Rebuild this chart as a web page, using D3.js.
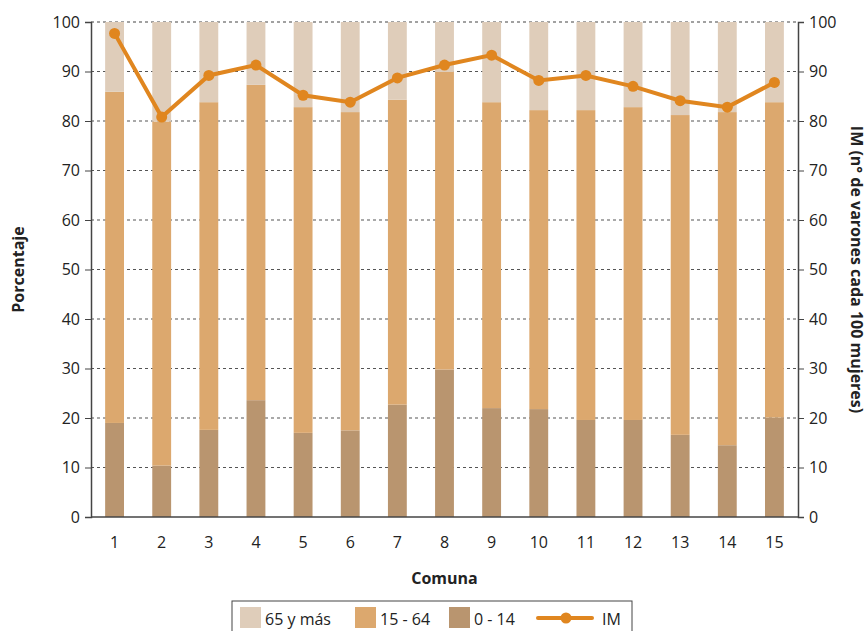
<!DOCTYPE html>
<meta charset="utf-8">
<script src="https://cdn.jsdelivr.net/npm/d3@7"></script>
<style>
body { margin: 0; background: #fff; }
text { font-family: "Open Sans", "Noto Sans", sans-serif; fill: #222; }
.tick text { font-size: 16px; }
.title { font-size: 16px; font-weight: bold; }
</style>
<body>
<script>
var comunas = ["1","2","3","4","5","6","7","8","9","10","11","12","13","14","15"];
// porcentaje por grupo de edad
var g0_14  = [19.0, 10.4, 17.6, 23.6, 17.0, 17.5, 22.7, 29.8, 22.0, 21.8, 19.6, 19.6, 16.6, 14.5, 20.1];
var g15_64 = [66.9, 69.5, 66.2, 63.7, 65.8, 64.3, 61.6, 60.1, 61.8, 60.4, 62.6, 63.2, 64.6, 67.3, 63.7];
var g65    = [14.1, 20.1, 16.2, 12.7, 17.2, 18.2, 15.7, 10.1, 16.2, 17.8, 17.8, 17.2, 18.8, 18.2, 16.2];
// indice de masculinidad
var im     = [97.7, 80.8, 89.2, 91.3, 85.2, 83.8, 88.7, 91.3, 93.3, 88.2, 89.2, 87.0, 84.1, 82.8, 87.8];

var keys = ["g0_14", "g15_64", "g65"];
var colors = {g0_14: "#b9956f", g15_64: "#dca86e", g65: "#dfcdba"};
var lineColor = "#e0861f";

var width = 867, height = 631;
var margin = {top: 22, right: 69, bottom: 114, left: 91};

var svg = d3.select("body").append("svg")
    .attr("width", width)
    .attr("height", height);

var x = d3.scaleBand().domain(comunas)
    .range([margin.left, width - margin.right])
    .paddingInner(0.6).paddingOuter(0.3);
var y = d3.scaleLinear().domain([0, 100]).range([height - margin.bottom, margin.top]);
var y2 = d3.scaleLinear().domain([0, 100]).range([height - margin.bottom, margin.top]);

// grid
svg.append("g")
  .selectAll("line")
  .data(d3.range(10, 101, 10))
  .enter().append("line")
    .attr("x1", margin.left).attr("x2", width - margin.right)
    .attr("y1", function(d) { return y(d); }).attr("y2", function(d) { return y(d); })
    .attr("stroke", function(d) { return d == 100 ? "#444" : "#555"; })
    .attr("stroke-width", 1.2)
    .attr("stroke-dasharray", "3,3");

var rows = comunas.map(function(c, i) {
  return {comuna: c, g0_14: g0_14[i], g15_64: g15_64[i], g65: g65[i]};
});
var stacked = d3.stack().keys(keys)(rows);

svg.append("g")
  .selectAll("g")
  .data(stacked)
  .enter().append("g")
    .attr("fill", function(d) { return colors[d.key]; })
  .selectAll("rect")
  .data(function(d) { return d; })
  .enter().append("rect")
    .attr("x", function(d) { return x(d.data.comuna); })
    .attr("width", x.bandwidth())
    .attr("y", function(d) { return y(d[1]); })
    .attr("height", function(d) { return y(d[0]) - y(d[1]); });

// axes
var yAxis = svg.append("g")
    .attr("transform", "translate(" + margin.left + ",0)")
    .call(d3.axisLeft(y).tickValues(d3.range(0, 101, 10)).tickSize(6).tickPadding(5));
var yAxis2 = svg.append("g")
    .attr("transform", "translate(" + (width - margin.right) + ",0)")
    .call(d3.axisRight(y2).tickValues(d3.range(0, 101, 10)).tickSize(6).tickPadding(5));
var xAxis = svg.append("g")
    .attr("transform", "translate(0," + (height - margin.bottom) + ")")
    .call(d3.axisBottom(x).tickSize(0).tickPadding(20));

[yAxis, yAxis2, xAxis].forEach(function(a) {
  a.select(".domain").attr("stroke", "#444").attr("stroke-width", 1.5);
  a.selectAll(".tick line").attr("stroke", "#444");
  a.selectAll(".tick text").attr("fill", "#222");
});
xAxis.select(".domain").attr("d", "M" + margin.left + ",0H" + (width - margin.right));

// IM line
var line = d3.line()
    .x(function(d, i) { return x(comunas[i]) + x.bandwidth() / 2; })
    .y(function(d) { return y2(d); });

svg.append("path")
    .datum(im)
    .attr("fill", "none")
    .attr("stroke", lineColor)
    .attr("stroke-width", 4)
    .attr("d", line);

svg.append("g")
  .selectAll("circle")
  .data(im)
  .enter().append("circle")
    .attr("cx", function(d, i) { return x(comunas[i]) + x.bandwidth() / 2; })
    .attr("cy", function(d) { return y2(d); })
    .attr("r", 5.5)
    .attr("fill", lineColor);

// titles
svg.append("text").attr("class", "title")
    .attr("transform", "translate(24," + ((margin.top + height - margin.bottom) / 2) + ")rotate(-90)")
    .attr("text-anchor", "middle")
    .text("Porcentaje");
svg.append("text").attr("class", "title")
    .attr("transform", "translate(851," + ((margin.top + height - margin.bottom) / 2) + ")rotate(90)")
    .attr("text-anchor", "middle")
    .text("IM (n° de varones cada 100 mujeres)");
svg.append("text").attr("class", "title")
    .attr("x", (margin.left + width - margin.right) / 2)
    .attr("y", 584)
    .attr("text-anchor", "middle")
    .text("Comuna");

// legend
var legend = svg.append("g").attr("transform", "translate(232,601)");
legend.append("rect")
    .attr("width", 400).attr("height", 40)
    .attr("fill", "#fff").attr("stroke", "#444").attr("stroke-width", 1);

var legendItems = [
  {label: "65 y más", key: "g65", x: 8},
  {label: "15 - 64", key: "g15_64", x: 123},
  {label: "0 - 14", key: "g0_14", x: 217}
];
legendItems.forEach(function(d) {
  legend.append("rect")
      .attr("x", d.x).attr("y", 6)
      .attr("width", 21).attr("height", 21)
      .attr("fill", colors[d.key]);
  legend.append("text")
      .attr("x", d.x + 25).attr("y", 24)
      .attr("font-size", 16)
      .text(d.label);
});
legend.append("line")
    .attr("x1", 306).attr("x2", 360)
    .attr("y1", 17).attr("y2", 17)
    .attr("stroke", lineColor).attr("stroke-width", 4)
    .attr("stroke-linecap", "round");
legend.append("circle")
    .attr("cx", 334).attr("cy", 17).attr("r", 5.5)
    .attr("fill", lineColor);
legend.append("text")
    .attr("x", 370).attr("y", 24)
    .attr("font-size", 16)
    .text("IM");
</script>
</body>
</html>
